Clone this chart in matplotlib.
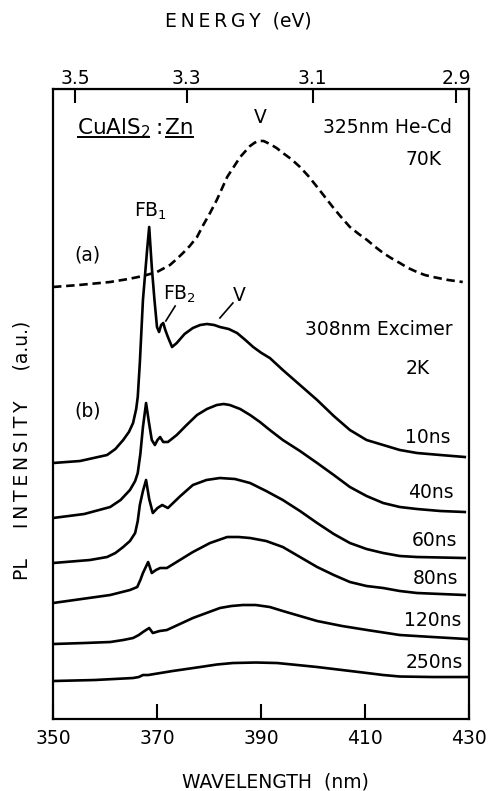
import matplotlib
matplotlib.use('Agg')
import matplotlib.pyplot as plt

# Wavelength (nm) / intensity (a.u., offset)
wl_a = [350.0, 355.0, 361.0, 364.5, 367.3, 370.0, 372.5, 373.8, 375.0, 376.3, 377.7,
        378.9, 380.2, 381.5, 383.5, 385.0, 386.0, 387.9, 388.7, 389.4, 390.5, 391.7,
        393.0, 394.2, 395.8, 397.5, 399.1, 400.8, 402.3, 403.8, 405.4, 407.1, 408.8,
        410.4, 412.0, 413.5, 415.0, 416.7, 418.3, 420.0, 421.5, 423.1, 426.0, 428.8]
pl_a = [43.2, 43.4, 43.7, 44.0, 44.3, 44.7, 45.4, 46.0, 46.6, 47.3, 48.2,
        49.4, 50.6, 51.9, 54.2, 55.4, 56.2, 57.3, 57.6, 57.8, 57.8, 57.5,
        57.1, 56.6, 56.0, 55.2, 54.3, 53.2, 52.2, 51.2, 50.2, 49.2, 48.5,
        47.9, 47.2, 46.6, 46.1, 45.6, 45.1, 44.7, 44.4, 44.2, 43.9, 43.7]

wl_10 = [350.0, 355.2, 360.4, 362.0, 363.5, 364.6, 365.4, 366.0, 366.3, 366.7, 367.3,
         368.1, 368.5, 369.0, 369.5, 370.0, 370.4, 370.8, 371.2, 371.6, 372.1, 372.9,
         373.8, 375.3, 376.9, 378.3, 379.6, 381.0, 382.1, 383.8, 385.4, 387.0, 388.5,
         390.1, 391.7, 394.2, 397.5, 400.8, 404.0, 407.1, 410.3, 413.5, 416.7, 420.0,
         424.5, 429.2]
pl_10 = [25.6, 25.8, 26.4, 27.0, 27.9, 28.7, 29.6, 31.0, 32.2, 35.6, 41.9,
         46.9, 49.2, 45.2, 42.0, 39.2, 38.7, 39.4, 39.6, 38.9, 38.2, 37.2,
         37.6, 38.5, 39.1, 39.4, 39.5, 39.4, 39.2, 39.0, 38.6, 37.9, 37.2,
         36.6, 36.1, 34.9, 33.4, 31.9, 30.3, 28.9, 27.9, 27.4, 26.9, 26.6,
         26.4, 26.2]

wl_40 = [350.0, 356.0, 361.0, 363.0, 364.8, 365.8, 366.3, 366.8, 367.3, 367.9, 368.5,
         369.0, 369.6, 370.1, 370.6, 371.2, 372.1, 373.8, 375.7, 377.7, 379.6, 381.5,
         382.8, 384.0, 386.0, 387.9, 389.8, 391.7, 394.2, 397.5, 400.8, 404.0, 407.1,
         410.3, 413.5, 416.7, 420.0, 424.5, 429.2]
pl_40 = [20.1, 20.5, 21.2, 21.9, 22.9, 23.8, 24.6, 26.5, 29.2, 31.6, 29.5,
         27.9, 27.4, 27.9, 28.2, 27.7, 27.7, 28.4, 29.4, 30.4, 31.0, 31.4,
         31.5, 31.4, 31.0, 30.4, 29.7, 28.9, 27.9, 26.8, 25.6, 24.4, 23.2,
         22.3, 21.6, 21.2, 21.0, 20.8, 20.7]

wl_60 = [350.0, 357.1, 360.4, 362.0, 363.5, 364.8, 365.8, 366.3, 366.7, 367.3, 367.9,
         368.5, 369.2, 370.1, 371.0, 372.1, 374.5, 376.9, 379.5, 382.1, 385.0, 387.9,
         391.0, 394.2, 397.5, 400.8, 404.0, 407.1, 410.3, 413.5, 416.7, 420.0, 429.2]
pl_60 = [15.6, 15.9, 16.2, 16.6, 17.2, 17.8, 18.6, 19.8, 21.4, 22.8, 23.9,
         22.0, 20.6, 21.1, 21.4, 21.1, 22.3, 23.4, 23.9, 24.1, 24.0, 23.6,
         22.8, 21.9, 20.8, 19.6, 18.5, 17.6, 17.0, 16.6, 16.3, 16.2, 16.1]

wl_80 = [350.0, 355.5, 361.0, 364.8, 366.2, 366.8, 367.3, 368.3, 369.0, 369.8, 370.6,
         371.9, 374.4, 376.9, 380.2, 383.5, 385.7, 387.9, 391.0, 394.2, 397.5, 400.8,
         404.0, 407.1, 410.3, 413.5, 416.7, 420.0, 429.2]
pl_80 = [11.6, 12.0, 12.4, 12.9, 13.2, 13.9, 14.6, 15.7, 14.6, 14.9, 15.1,
         15.1, 15.9, 16.7, 17.6, 18.2, 18.2, 18.1, 17.8, 17.2, 16.2, 15.2,
         14.4, 13.7, 13.3, 13.1, 12.8, 12.6, 12.4]

wl_120 = [350.0, 356.0, 361.0, 363.5, 365.4, 366.5, 367.3, 368.5, 369.2, 370.5, 371.9,
          374.4, 376.9, 379.5, 382.1, 384.3, 386.5, 389.0, 391.7, 394.2, 397.5, 400.8,
          405.6, 410.4, 416.7, 423.0, 429.6]
pl_120 = [7.5, 7.6, 7.7, 7.9, 8.1, 8.4, 8.7, 9.1, 8.6, 8.8, 8.9,
          9.5, 10.1, 10.6, 11.1, 11.3, 11.4, 11.4, 11.2, 10.8, 10.3, 9.8,
          9.3, 8.9, 8.4, 8.2, 8.0]

wl_250 = [350.0, 358.0, 365.4, 366.5, 367.3, 368.3, 373.0, 378.3, 381.5, 384.6, 389.0,
          393.1, 397.0, 400.8, 405.6, 410.4, 413.5, 416.7, 423.0, 429.6]
pl_250 = [3.8, 3.9, 4.1, 4.2, 4.4, 4.4, 4.8, 5.2, 5.45, 5.6, 5.65,
          5.6, 5.4, 5.2, 4.9, 4.6, 4.4, 4.25, 4.2, 4.2]

delay_labels = ['10ns', '40ns', '60ns', '80ns', '120ns', '250ns']
label_pos = [(422.1, 28.2), (422.7, 22.7), (423.3, 17.9), (423.5, 14.1), (423.1, 9.9), (423.3, 5.7)]

wl_ticks = [350, 370, 390, 410, 430]
ev_ticks = [3.5, 3.3, 3.1, 2.9]

HC = 1239.84  # eV nm


def nm_to_ev(x):
    return HC / x


def ev_to_nm(e):
    return HC / e


plt.rcParams['font.family'] = 'DejaVu Sans'
fig = plt.figure(figsize=(4.92, 7.91), dpi=100)
ax = fig.add_axes([0.1077, 0.0910, 0.8455, 0.7965])

lw = 1.9
ax.plot(wl_a, pl_a, color='black', lw=lw, dashes=(3.2, 1.8))  # (a) He-Cd 70K
for wl, pl in [(wl_10, pl_10), (wl_40, pl_40), (wl_60, pl_60),
               (wl_80, pl_80), (wl_120, pl_120), (wl_250, pl_250)]:
    ax.plot(wl, pl, color='black', lw=lw)

fs = 13.5
ax.set_xlim(350, 430)
ax.set_ylim(0, 63)
ax.set_xticks(wl_ticks)
ax.set_xticklabels([str(t) for t in wl_ticks], fontsize=fs)
ax.set_yticks([])
ax.tick_params(axis='x', direction='in', length=11, width=1.5, pad=7)
for s in ax.spines.values():
    s.set_linewidth(1.6)

ts = '\u2009'  # thin space for the wide letter spacing of the original
ax.set_xlabel('WAVELENGTH  (nm)', fontsize=fs)
ax.xaxis.set_label_coords(0.534, -0.085)
ax.set_ylabel('PL     ' + ts.join('INTENSITY') + '     (a.u.)', fontsize=fs)
ax.yaxis.set_label_coords(-0.052, 0.427)

# top energy axis
sec = ax.secondary_xaxis('top', functions=(nm_to_ev, ev_to_nm))
sec.set_xticks(ev_ticks)
sec.set_xticklabels([str(t) for t in ev_ticks], fontsize=fs)
sec.tick_params(direction='in', length=10, width=1.5, pad=1)
sec.set_xlabel(ts.join('ENERGY') + '  (eV)', fontsize=fs, labelpad=30)
sec.xaxis.label.set_x(0.445)

# sample name, underlined in two parts
t1 = ax.text(354.6, 59.1, 'CuAlS$_2$', fontsize=15.5, ha='left', va='center')
ax.text(370.5, 59.1, ':', fontsize=15.5, ha='center', va='center')
t2 = ax.text(371.6, 59.1, 'Zn', fontsize=15.5, ha='left', va='center')
fig.canvas.draw()
inv = ax.transData.inverted()
for t in (t1, t2):
    bb = t.get_window_extent()
    x0 = inv.transform((bb.x0, bb.y0))[0]
    x1 = inv.transform((bb.x1, bb.y0))[0]
    ax.hlines(58.2, x0, x1, color='black', lw=1.4)

ax.text(389.8, 60.1, 'V', fontsize=fs, ha='center', va='center')
ax.text(426.7, 59.1, '325nm He-Cd', fontsize=fs, ha='right', va='center')
ax.text(421.2, 55.9, '70K', fontsize=fs, ha='center', va='center')
ax.text(356.7, 46.4, '(a)', fontsize=fs, ha='center', va='center')
ax.text(368.7, 50.8, 'FB$_1$', fontsize=fs, ha='center', va='center')
ax.text(374.4, 42.5, 'FB$_2$', fontsize=fs, ha='center', va='center')
ax.plot([373.5, 371.7], [41.3, 39.8], color='black', lw=1.2)
ax.text(385.8, 42.3, 'V', fontsize=fs, ha='center', va='center')
ax.plot([384.6, 382.1], [41.6, 40.1], color='black', lw=1.2)
ax.text(426.9, 38.9, '308nm Excimer', fontsize=fs, ha='right', va='center')
ax.text(420.2, 35.1, '2K', fontsize=fs, ha='center', va='center')
ax.text(356.7, 30.8, '(b)', fontsize=fs, ha='center', va='center')
for lab, (x, y) in zip(delay_labels, label_pos):
    ax.text(x, y, lab, fontsize=fs, ha='center', va='center')

plt.savefig('out.png', dpi=100)
plt.close()
